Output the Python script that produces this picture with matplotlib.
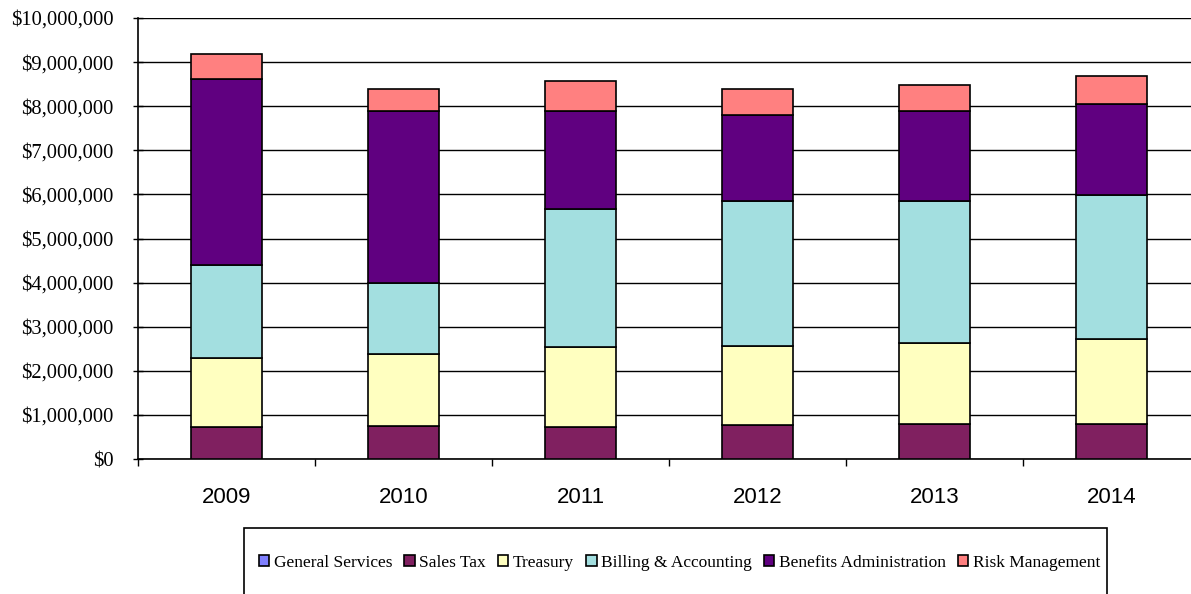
import matplotlib.pyplot as plt
import numpy as np
from matplotlib.patches import Rectangle
from matplotlib.ticker import FuncFormatter, MultipleLocator

years = ["2009", "2010", "2011", "2012", "2013", "2014"]
series = ["General Services", "Sales Tax", "Treasury", "Billing & Accounting",
          "Benefits Administration", "Risk Management"]

general_services = [0, 0, 0, 0, 0, 0]
sales_tax = [720000, 750000, 720000, 760000, 800000, 800000]
treasury = [1560000, 1630000, 1810000, 1810000, 1840000, 1920000]
billing = [2130000, 1600000, 3130000, 3290000, 3220000, 3260000]
benefits = [4210000, 3900000, 2220000, 1940000, 2020000, 2060000]
risk_mgmt = [560000, 520000, 690000, 600000, 600000, 650000]

colors = ["#8080FF", "#802060", "#FFFFC0", "#A3DFE0", "#600080", "#FF8080"]

W, H = 1191, 594
fig = plt.figure(figsize=(W / 100, H / 100), dpi=100)
ax = fig.add_axes([138 / W, 135 / H, 1062 / W, 441 / H])

x = np.arange(len(years))
bottom = np.zeros(len(years))
for name, vals, col in zip(series,
                           [general_services, sales_tax, treasury, billing, benefits, risk_mgmt],
                           colors):
    vals = np.array(vals, dtype=float)
    ax.bar(x, vals, 0.4, bottom=bottom, color=col, edgecolor="black",
           linewidth=1.2, label=name, zorder=3)
    bottom += vals

ax.set_xlim(-0.5, len(years) - 0.5)
ax.set_ylim(0, 10000000)
ax.yaxis.set_major_locator(MultipleLocator(1000000))
ax.yaxis.set_major_formatter(FuncFormatter(lambda v, p: "${:,.0f}".format(v)))
ax.grid(axis="y", color="black", linewidth=1, zorder=0)

ax.set_xticks(x)
ax.set_xticklabels(years, fontsize=16, family="Liberation Sans")
ax.set_xticks(np.arange(len(years) + 1) - 0.5, minor=True)
ax.tick_params(axis="x", which="major", length=0, pad=20)
ax.tick_params(axis="x", which="minor", length=5, width=1, direction="out")
ax.tick_params(axis="y", length=7, width=1, direction="inout", pad=14)
for lab in ax.get_yticklabels():
    lab.set_family("Liberation Serif")
    lab.set_fontsize(14.8)

for s in ["top", "right"]:
    ax.spines[s].set_visible(False)
for s in ["left", "bottom"]:
    ax.spines[s].set_linewidth(1.2)

# legend box drawn separately so its height can run off the bottom edge
fig.patches.append(Rectangle((244 / W, -0.02), (1107 - 244) / W, (H - 528) / H + 0.02,
                             transform=fig.transFigure, fill=False,
                             edgecolor="black", linewidth=1.2))
fig.legend(loc="center left", bbox_to_anchor=(259 / W, 1 - 563 / H),
           ncol=6, frameon=False,
           prop={"family": "Liberation Serif", "size": 12.5},
           handlelength=0.6, handleheight=0.6, handletextpad=0.25,
           columnspacing=0.7, borderpad=0, borderaxespad=0)

fig.savefig("out.png", dpi=100)
